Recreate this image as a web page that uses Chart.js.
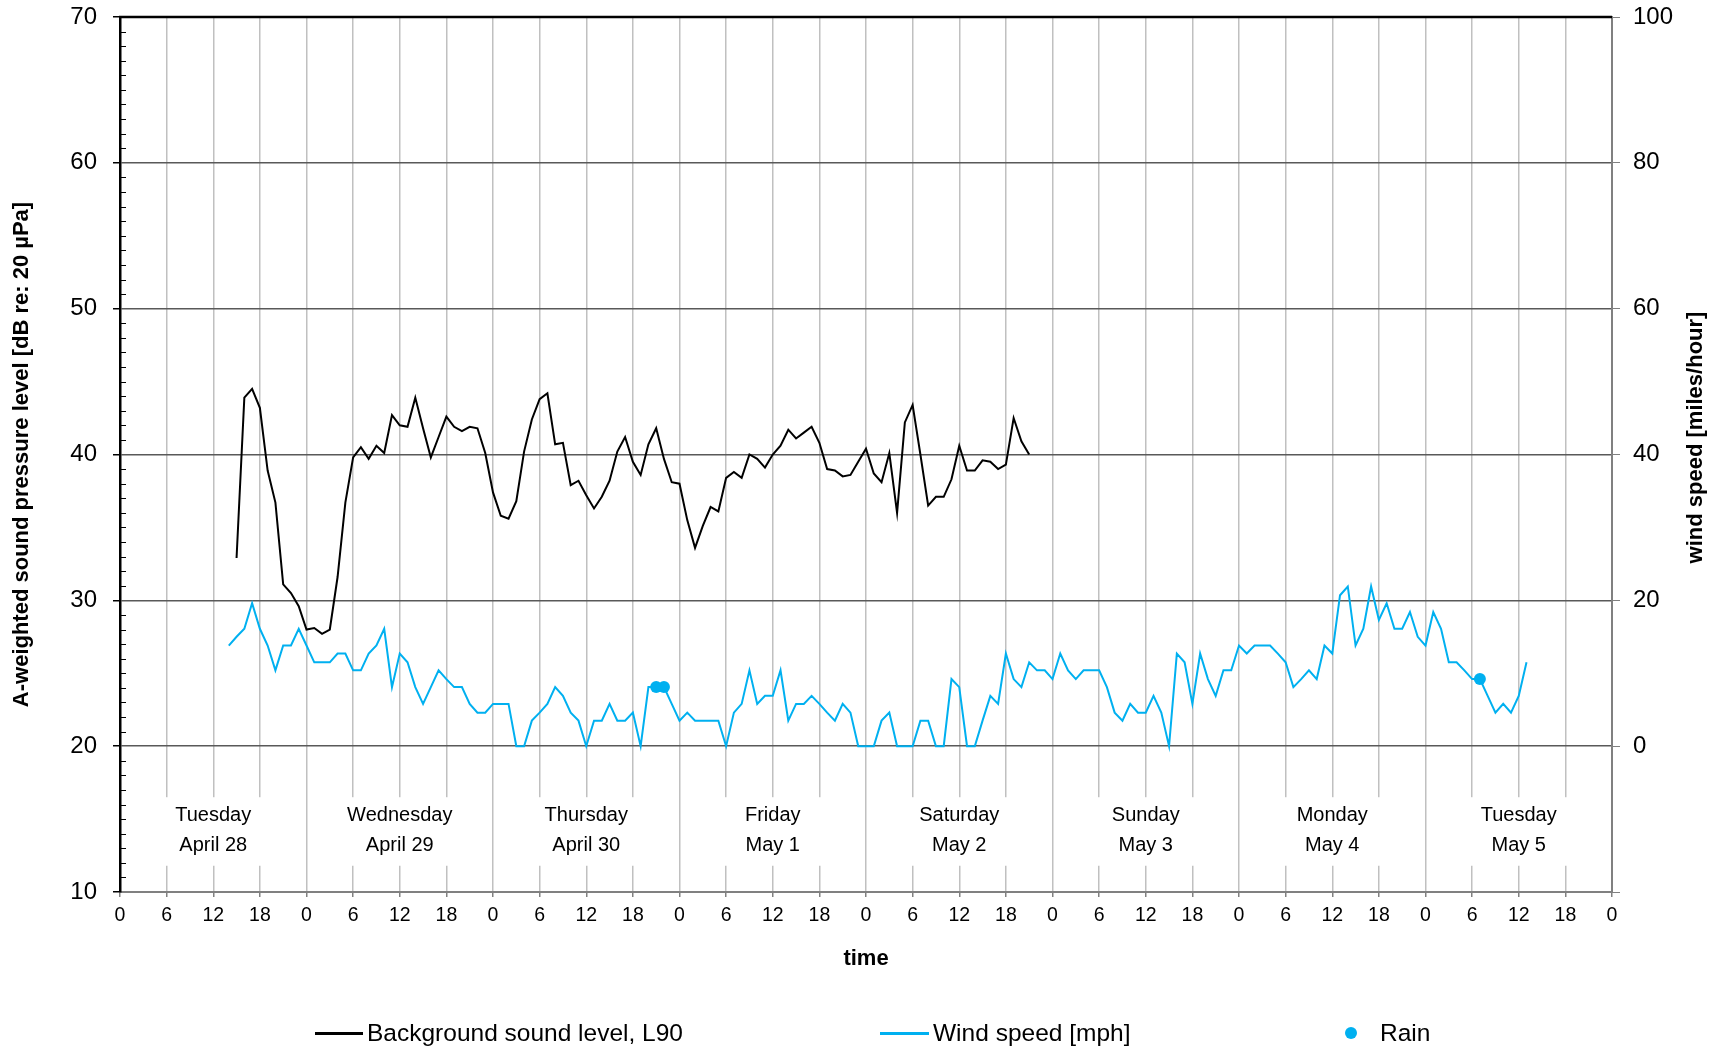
<!DOCTYPE html>
<html>
<head>
<meta charset="utf-8">
<title>Background sound level and wind speed</title>
<script src="https://cdn.jsdelivr.net/npm/chart.js@4.4.1/dist/chart.umd.min.js"></script>
<style>
  body { margin: 0; background: #fff; }
  #wrap { position: relative; width: 1719px; height: 1049px; font-family: 'Liberation Sans', Arial, sans-serif; }
  #soundChart { position: absolute; left: 0; top: 0; }
  #legend { position: absolute; left: 0; top: 1019px; width: 1719px; height: 28px; font-size: 24.5px; color: #000; }
  .swatch, .label { position: absolute; top: 0; height: 28px; line-height: 28px; white-space: nowrap; }
</style>
</head>
<body>
<div id="wrap">
  <canvas id="soundChart" width="1719" height="1049"></canvas>
  <div id="legend"></div>
</div>
<script>
// hours counted from Tuesday April 28, 0:00; one reading per hour
const soundStart = 15;
const soundL90 = [
  32.9, 43.9, 44.5, 43.2, 38.9, 36.7, 31.1, 30.5, 29.6, 28.0,
  28.1, 27.7, 28.0, 31.6, 36.7, 39.8, 40.5, 39.7, 40.6, 40.1,
  42.7, 42.0, 41.9, 43.9, 41.8, 39.8, 41.2, 42.6, 41.9, 41.6,
  41.9, 41.8, 40.1, 37.4, 35.8, 35.6, 36.8, 40.2, 42.4, 43.8,
  44.2, 40.7, 40.8, 37.9, 38.2, 37.2, 36.3, 37.1, 38.2, 40.2,
  41.2, 39.5, 38.6, 40.7, 41.8, 39.7, 38.1, 38.0, 35.5, 33.6,
  35.1, 36.4, 36.1, 38.4, 38.8, 38.4, 40.0, 39.7, 39.1, 40.0,
  40.6, 41.7, 41.1, 41.5, 41.9, 40.8, 39.0, 38.9, 38.5, 38.6,
  39.5, 40.4, 38.7, 38.1, 40.1, 36.0, 42.2, 43.4, 40.0, 36.5,
  37.1, 37.1, 38.3, 40.6, 38.9, 38.9, 39.6, 39.5, 39.0, 39.3,
  42.5, 40.9, 40.0
];

const windStart = 14;
const windMph = [
  13.8, 15.0, 16.1, 19.6, 16.1, 13.8, 10.4, 13.8, 13.8, 16.1,
  13.8, 11.5, 11.5, 11.5, 12.7, 12.7, 10.4, 10.4, 12.7, 13.8,
  16.1, 8.1, 12.7, 11.5, 8.1, 5.8, 8.1, 10.4, 9.2, 8.1,
  8.1, 5.8, 4.6, 4.6, 5.8, 5.8, 5.8, 0, 0, 3.5,
  4.6, 5.8, 8.1, 6.9, 4.6, 3.5, 0, 3.5, 3.5, 5.8,
  3.5, 3.5, 4.6, 0, 8.1, 8.1, 8.1, 5.8, 3.5, 4.6,
  3.5, 3.5, 3.5, 3.5, 0, 4.6, 5.8, 10.4, 5.8, 6.9,
  6.9, 10.4, 3.5, 5.8, 5.8, 6.9, 5.8, 4.6, 3.5, 5.8,
  4.6, 0, 0, 0, 3.5, 4.6, 0, 0, 0, 3.5,
  3.5, 0, 0, 9.2, 8.1, 0, 0, 3.5, 6.9, 5.8,
  12.7, 9.2, 8.1, 11.5, 10.4, 10.4, 9.2, 12.7, 10.4, 9.2,
  10.4, 10.4, 10.4, 8.1, 4.6, 3.5, 5.8, 4.6, 4.6, 6.9,
  4.6, 0, 12.7, 11.5, 5.8, 12.7, 9.2, 6.9, 10.4, 10.4,
  13.8, 12.7, 13.8, 13.8, 13.8, 12.7, 11.5, 8.1, 9.2, 10.4,
  9.2, 13.8, 12.7, 20.7, 21.9, 13.8, 16.1, 21.9, 17.3, 19.6,
  16.1, 16.1, 18.4, 15.0, 13.8, 18.4, 16.1, 11.5, 11.5, 10.4,
  9.2, 9.2, 6.9, 4.6, 5.8, 4.6, 6.9, 11.5
];

const rainHours = [69, 70, 175];
const rainMph = [8.1, 8.1, 9.2];

const dayNames = ['Tuesday', 'Wednesday', 'Thursday', 'Friday', 'Saturday', 'Sunday', 'Monday', 'Tuesday'];
const dayDates = ['April 28', 'April 29', 'April 30', 'May 1', 'May 2', 'May 3', 'May 4', 'May 5'];

const BLUE = '#00B0F0';
const FONT = "'Liberation Sans', Arial, sans-serif";

Chart.defaults.font.family = FONT;
Chart.defaults.color = '#000';

// white gaps in the grid behind the day names, minor ticks, day names, top frame line
const framePlugin = {
    id: 'frame',
    beforeDatasetsDraw(chart) {
        const { ctx, chartArea: area, scales: { x, y } } = chart;
        const bandTop = y.getPixelForValue(16.5);
        const bandBottom = y.getPixelForValue(11.8);
        ctx.save();

        ctx.fillStyle = '#fff';
        for (let h = 6; h < 192; h += 6) {
            if (h % 24 === 0) continue;
            const px = x.getPixelForValue(h);
            ctx.fillRect(px - 2, bandTop, 4, bandBottom - bandTop);
        }

        ctx.strokeStyle = '#000';
        ctx.lineWidth = 1;
        for (let v = 11; v < 70; v++) {
            if (v % 10 === 0) continue;
            const py = Math.round(y.getPixelForValue(v)) + 0.5;
            ctx.beginPath();
            ctx.moveTo(area.left, py);
            ctx.lineTo(area.left + 6, py);
            ctx.stroke();
        }

        ctx.fillStyle = '#000';
        ctx.font = '20px ' + FONT;
        ctx.textAlign = 'center';
        ctx.textBaseline = 'middle';
        dayNames.forEach((name, d) => {
            const px = x.getPixelForValue(24 * d + 12);
            ctx.fillText(name, px, y.getPixelForValue(15.27));
            ctx.fillText(dayDates[d], px, y.getPixelForValue(13.22));
        });

        ctx.strokeStyle = '#000';
        ctx.lineWidth = 2.5;
        ctx.beginPath();
        ctx.moveTo(area.left - 1, area.top);
        ctx.lineTo(area.right, area.top);
        ctx.stroke();

        // right axis title reads bottom to top, like the left one
        ctx.save();
        ctx.translate(1696, (area.top + area.bottom) / 2 - 17);
        ctx.rotate(-Math.PI / 2);
        ctx.font = 'bold 22px ' + FONT;
        ctx.fillText('wind speed [miles/hour]', 0, 0);
        ctx.restore();

        ctx.restore();
    }
};

const noEdgePadding = s => {
    s.paddingTop = 0;
    s.paddingBottom = 0;
};

const chart = new Chart(document.getElementById('soundChart').getContext('2d'), {
    type: 'line',
    data: {
        datasets: [
            {
                label: 'Rain',
                type: 'scatter',
                data: rainHours.map((h, i) => ({ x: h, y: rainMph[i] })),
                yAxisID: 'y1',
                backgroundColor: BLUE,
                borderWidth: 0,
                pointRadius: 6,
                order: 0
            },
            {
                label: 'Background sound level, L90',
                data: soundL90.map((v, i) => ({ x: soundStart + i, y: v })),
                yAxisID: 'y',
                borderColor: '#000',
                borderWidth: 2,
                pointRadius: 0,
                tension: 0,
                order: 1
            },
            {
                label: 'Wind speed [mph]',
                data: windMph.map((v, i) => ({ x: windStart + i, y: v })),
                yAxisID: 'y1',
                borderColor: BLUE,
                borderWidth: 2,
                pointRadius: 0,
                tension: 0,
                order: 2
            }
        ]
    },
    options: {
        responsive: false,
        animation: false,
        layout: { padding: { top: 17 } },
        plugins: {
            legend: { display: false },
            tooltip: { enabled: false }
        },
        scales: {
            x: {
                type: 'linear',
                min: 0,
                max: 192,
                ticks: {
                    stepSize: 6,
                    autoSkip: false,
                    maxRotation: 0,
                    padding: 7,
                    font: { size: 19.5 },
                    callback: v => v % 24
                },
                grid: {
                    color: c => (c.tick && (c.tick.value === 0 || c.tick.value === 192)) ? 'rgba(0,0,0,0)' : '#C0C0C0',
                    lineWidth: 1.5,
                    tickLength: 5,
                    tickColor: '#808080'
                },
                border: { color: '#808080', width: 2 },
                title: {
                    display: true,
                    text: 'time',
                    font: { size: 22, weight: 'bold' },
                    padding: { top: 0, bottom: 77 }
                },
                afterFit: s => { s.height = 157; }
            },
            y: {
                position: 'left',
                min: 10,
                max: 70,
                ticks: { stepSize: 10, padding: 16, font: { size: 24 } },
                grid: {
                    color: c => (c.tick && (c.tick.value === 10 || c.tick.value === 70)) ? 'rgba(0,0,0,0)' : '#595959',
                    lineWidth: 1.5,
                    tickLength: 7,
                    tickColor: '#000'
                },
                border: { color: '#000', width: 2.5 },
                title: {
                    display: true,
                    text: 'A-weighted sound pressure level [dB re: 20 µPa]',
                    font: { size: 22, weight: 'bold' },
                    padding: { top: 9, bottom: 0 }
                },
                afterFit: s => { s.width = 120; noEdgePadding(s); }
            },
            y1: {
                position: 'right',
                min: -20,
                max: 100,
                ticks: {
                    stepSize: 20,
                    padding: 13,
                    font: { size: 24 },
                    callback: v => v < 0 ? '' : v
                },
                grid: { drawOnChartArea: false, tickLength: 8, tickColor: '#808080' },
                border: { color: '#808080', width: 2 },
                title: { display: false },
                afterFit: s => { s.width = 107; noEdgePadding(s); }
            }
        }
    },
    plugins: [framePlugin]
});

// legend laid out like the original, spread across the bottom
const legendSlots = {
    'Background sound level, L90': { swatch: 315, text: 367 },
    'Wind speed [mph]': { swatch: 880, text: 933 },
    'Rain': { swatch: 1345, text: 1380 }
};
const legend = document.getElementById('legend');
['Background sound level, L90', 'Wind speed [mph]', 'Rain'].forEach(name => {
    const ds = chart.data.datasets.find(d => d.label === name);
    const slot = legendSlots[name];
    const sw = document.createElement('div');
    sw.className = 'swatch';
    sw.style.left = slot.swatch + 'px';
    if (ds.type === 'scatter') {
        sw.style.width = '12px';
        sw.style.height = '12px';
        sw.style.top = '8px';
        sw.style.borderRadius = '50%';
        sw.style.background = ds.backgroundColor;
    } else {
        sw.style.width = (slot.text - slot.swatch - 4) + 'px';
        sw.style.height = '2.5px';
        sw.style.top = '13px';
        sw.style.background = ds.borderColor;
    }
    legend.appendChild(sw);
    const lab = document.createElement('div');
    lab.className = 'label';
    lab.style.left = slot.text + 'px';
    lab.textContent = name;
    legend.appendChild(lab);
});
</script>
</body>
</html>
